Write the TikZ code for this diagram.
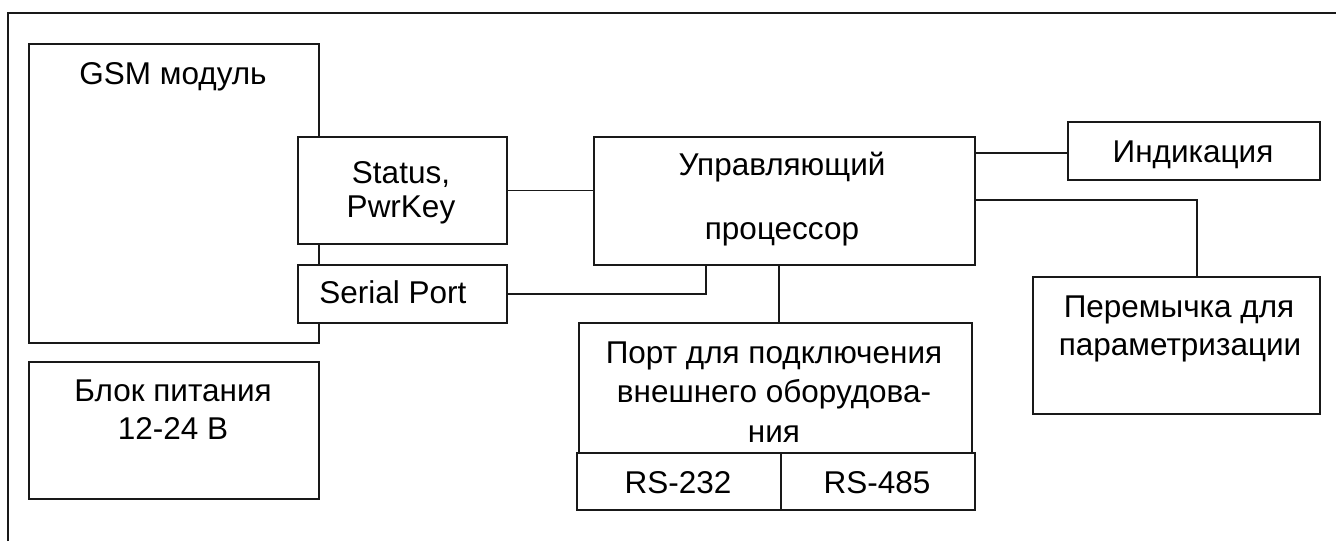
\documentclass[tikz,border=0pt]{standalone}
\usepackage{fontspec}
\setmainfont{Liberation Sans}
\begin{document}
\begin{tikzpicture}[x=1pt,y=-1pt,
  blk/.style={draw=black!90, line width=1.7pt, fill=white, inner sep=0pt, anchor=north west},
  txt/.style={anchor=base, inner sep=0pt, font=\fontsize{31.5pt}{36pt}\selectfont},
  wire/.style={draw=black!90, line width=1.7pt}]
\useasboundingbox (0,0) rectangle (1336,541);
\fill[white] (0,0) rectangle (1336,541);

% outer frame (left and top edges)
\draw[line width=2pt, black!90] (8,541) -- (8,13) -- (1336,13);

% GSM module with its interface blocks
\node[blk, minimum width=290pt, minimum height=299pt] (gsm) at (28,43) {};
\node[blk, minimum width=209pt, minimum height=107pt] (status) at (297,136) {};
\node[blk, minimum width=209pt, minimum height=58pt] (serial) at (297,264) {};
\node[blk, minimum width=290pt, minimum height=137pt] (psu) at (28,361) {};

% controller and peripherals
\node[blk, minimum width=381pt, minimum height=128pt] (cpu) at (593,136) {};
\node[blk, minimum width=252pt, minimum height=58pt] (ind) at (1067,121) {};
\node[blk, minimum width=287pt, minimum height=137pt] (jmp) at (1032,276) {};
\node[blk, minimum width=393pt, minimum height=130pt] (port) at (578,322) {};
\node[blk, minimum width=204pt, minimum height=57pt] (rsa) at (576,452) {};
\node[blk, minimum width=194pt, minimum height=57pt] (rsb) at (780,452) {};

% labels
\node[txt] (tgsm) at (173,84) {GSM модуль};
\node[txt] (tpsu1) at (173,401) {Блок питания};
\node[txt] (tpsu2) at (173,439) {12-24 В};
\node[txt] (tst1) at (401,183) {Status,};
\node[txt] (tst2) at (401,217) {PwrKey};
\node[txt] (tser) at (393,303) {Serial Port};
\node[txt] (tcpu1) at (782,175) {Управляющий};
\node[txt] (tcpu2) at (782,239) {процессор};
\node[txt] (tind) at (1193,162) {Индикация};
\node[txt] (tjmp1) at (1179,317) {Перемычка для};
\node[txt] (tjmp2) at (1180,355) {параметризации};
\node[txt] (tport1) at (774,363) {Порт для подключения};
\node[txt] (tport2) at (774,402) {внешнего оборудова-};
\node[txt] (tport3) at (774,442) {ния};
\node[txt] (trsa) at (678,493) {RS-232};
\node[txt] (trsb) at (877,493) {RS-485};

% connection points on the controller
\coordinate (cpuS1) at (706,264);
\coordinate (cpuS2) at (779,264);
\coordinate (cpuE1) at (974,153);
\coordinate (cpuE2) at (974,200);
\coordinate (jmpN) at (1197,276);

% connectors
\draw[wire] (status.east) -- (status.east -| cpu.west);
\draw[wire] (serial.east) -| (cpuS1);
\draw[wire] (cpuS2) -- (cpuS2 |- port.north);
\draw[wire] (cpuE1) -- (cpuE1 -| ind.west);
\draw[wire] (cpuE2) -| (jmpN);
\end{tikzpicture}
\end{document}
